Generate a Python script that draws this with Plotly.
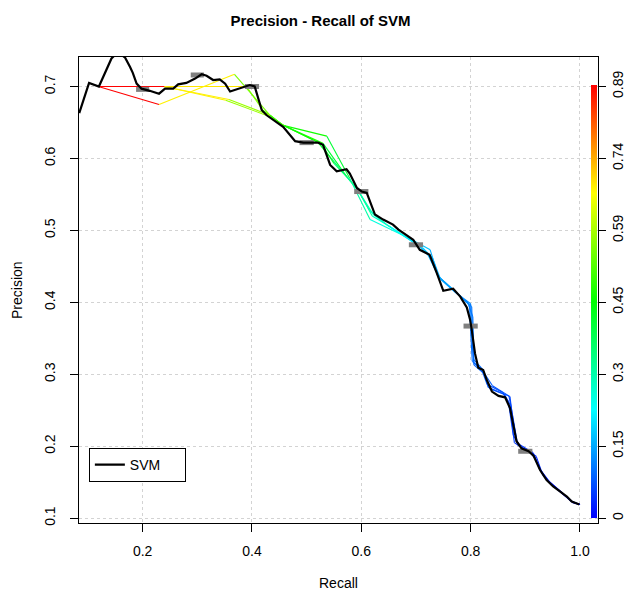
import plotly.graph_objects as go
from plotly.colors import sample_colorscale

# averaged curve (black)
avg_recall = [0.084, 0.102, 0.120, 0.143, 0.155, 0.168, 0.177, 0.182, 0.189, 0.198,
              0.213, 0.230, 0.241, 0.256, 0.265, 0.280, 0.296, 0.308, 0.317, 0.329,
              0.341, 0.351, 0.360, 0.372, 0.384, 0.396, 0.405, 0.418, 0.427, 0.445,
              0.457, 0.479, 0.494, 0.521, 0.530, 0.543, 0.555, 0.573, 0.579, 0.592,
              0.601, 0.610, 0.625, 0.640, 0.658, 0.668, 0.677, 0.695, 0.707, 0.725,
              0.738, 0.750, 0.768, 0.781, 0.793, 0.799, 0.802, 0.808, 0.814, 0.823,
              0.829, 0.839, 0.851, 0.863, 0.872, 0.878, 0.884, 0.893, 0.906, 0.915,
              0.927, 0.939, 0.951, 0.964, 0.976, 0.985, 0.999]
avg_precision = [0.663, 0.705, 0.700, 0.739, 0.748, 0.740, 0.727, 0.719, 0.704, 0.697,
                 0.694, 0.690, 0.697, 0.697, 0.703, 0.705, 0.711, 0.717, 0.715, 0.709,
                 0.710, 0.704, 0.693, 0.696, 0.700, 0.702, 0.700, 0.667, 0.660, 0.651,
                 0.644, 0.624, 0.622, 0.622, 0.619, 0.591, 0.582, 0.585, 0.579, 0.559,
                 0.554, 0.552, 0.522, 0.515, 0.508, 0.501, 0.496, 0.487, 0.473, 0.466,
                 0.441, 0.416, 0.419, 0.408, 0.393, 0.376, 0.362, 0.329, 0.309, 0.306,
                 0.293, 0.276, 0.270, 0.268, 0.253, 0.228, 0.207, 0.197, 0.193, 0.187,
                 0.167, 0.153, 0.144, 0.137, 0.130, 0.123, 0.119]

# single runs, colorized by cutoff
run1_recall = [0.119, 0.238, 0.390, 0.420, 0.457, 0.530, 0.573, 0.592, 0.622, 0.646,
               0.677, 0.707, 0.726, 0.741, 0.768, 0.795, 0.804, 0.806, 0.823, 0.835,
               0.862, 0.872, 0.880, 0.895, 0.915, 0.927, 0.945, 0.965, 0.985, 1.000]
run1_precision = [0.700, 0.700, 0.700, 0.667, 0.646, 0.621, 0.575, 0.558, 0.522, 0.508,
                  0.493, 0.477, 0.463, 0.436, 0.418, 0.399, 0.380, 0.320, 0.306, 0.280,
                  0.272, 0.258, 0.205, 0.197, 0.190, 0.168, 0.150, 0.137, 0.123, 0.119]
run1_cutoff = [0.89, 0.69, 0.56, 0.52, 0.47, 0.40, 0.33, 0.30, 0.27, 0.24,
               0.20, 0.17, 0.15, 0.14, 0.12, 0.11, 0.10, 0.09, 0.08, 0.07,
               0.06, 0.055, 0.045, 0.04, 0.035, 0.03, 0.02, 0.015, 0.008, 0.0]

run2_recall = [0.119, 0.230, 0.368, 0.433, 0.457, 0.537, 0.579, 0.616, 0.677, 0.700,
               0.726, 0.741, 0.768, 0.802, 0.804, 0.806, 0.826, 0.832, 0.872, 0.875,
               0.884, 0.905, 0.918, 0.930, 0.950, 0.970, 0.990, 1.000]
run2_precision = [0.700, 0.675, 0.717, 0.660, 0.646, 0.631, 0.572, 0.515, 0.493, 0.484,
                  0.473, 0.436, 0.417, 0.394, 0.337, 0.313, 0.300, 0.282, 0.269, 0.250,
                  0.205, 0.195, 0.183, 0.163, 0.145, 0.133, 0.121, 0.119]
run2_cutoff = [0.89, 0.68, 0.55, 0.48, 0.46, 0.40, 0.30, 0.25, 0.19, 0.17,
               0.15, 0.14, 0.12, 0.10, 0.09, 0.085, 0.08, 0.07, 0.06, 0.055,
               0.045, 0.04, 0.035, 0.028, 0.02, 0.012, 0.005, 0.0]

run3_recall = [0.119, 0.238, 0.358, 0.433, 0.457, 0.520, 0.545, 0.573, 0.592, 0.615,
               0.650, 0.680, 0.705, 0.722, 0.741, 0.770, 0.798, 0.800, 0.803, 0.820,
               0.830, 0.858, 0.869, 0.878, 0.892, 0.913, 0.925, 0.942, 0.962, 0.983, 1.000]
run3_precision = [0.700, 0.700, 0.682, 0.660, 0.646, 0.623, 0.600, 0.575, 0.558, 0.528,
                  0.506, 0.491, 0.480, 0.466, 0.436, 0.416, 0.396, 0.360, 0.318, 0.307,
                  0.286, 0.275, 0.262, 0.215, 0.199, 0.192, 0.170, 0.152, 0.139, 0.124, 0.119]
run3_cutoff = [0.89, 0.68, 0.58, 0.50, 0.46, 0.41, 0.36, 0.32, 0.30, 0.27,
               0.23, 0.20, 0.17, 0.15, 0.14, 0.12, 0.105, 0.095, 0.09, 0.08,
               0.07, 0.062, 0.055, 0.045, 0.04, 0.035, 0.03, 0.02, 0.013, 0.006, 0.0]

run4_recall = [0.119, 0.240, 0.352, 0.433, 0.460, 0.527, 0.550, 0.575, 0.595, 0.620,
               0.655, 0.685, 0.712, 0.730, 0.745, 0.772, 0.800, 0.802, 0.806, 0.822,
               0.840, 0.870, 0.874, 0.886, 0.898, 0.920, 0.932, 0.948, 0.968, 0.988, 1.000]
run4_precision = [0.700, 0.700, 0.681, 0.658, 0.645, 0.620, 0.593, 0.573, 0.555, 0.520,
                  0.504, 0.489, 0.476, 0.462, 0.432, 0.414, 0.398, 0.350, 0.316, 0.305,
                  0.284, 0.270, 0.255, 0.202, 0.196, 0.186, 0.160, 0.147, 0.134, 0.121, 0.119]
run4_cutoff = [0.89, 0.68, 0.58, 0.50, 0.46, 0.41, 0.35, 0.32, 0.30, 0.27,
               0.23, 0.20, 0.17, 0.15, 0.14, 0.12, 0.105, 0.095, 0.09, 0.08,
               0.07, 0.062, 0.055, 0.045, 0.04, 0.035, 0.03, 0.02, 0.013, 0.006, 0.0]

# spread boxes of the averaged curve
box_recall = [0.2, 0.3, 0.4, 0.5, 0.6, 0.7, 0.8, 0.9]
box_precision = [0.696, 0.716, 0.700, 0.622, 0.554, 0.480, 0.367, 0.193]
box_low = [0.188, 0.288, 0.387, 0.487, 0.587, 0.687, 0.787, 0.887]
box_high = [0.212, 0.312, 0.413, 0.513, 0.613, 0.713, 0.813, 0.913]

cutoff_max = 0.89
key_labels = ['0', '0.15', '0.3', '0.45', '0.59', '0.74', '0.89']
key_ticks = [0.1, 0.2, 0.3, 0.4, 0.5, 0.6, 0.7]

rainbow = [[0.0, '#0000FF'], [0.25, '#00FFFF'], [0.5, '#00FF00'],
           [0.75, '#FFFF00'], [1.0, '#FF0000']]

font = 'Liberation Sans, Arial, sans-serif'

fig = go.Figure()

runs = [(run1_recall, run1_precision, run1_cutoff),
        (run2_recall, run2_precision, run2_cutoff),
        (run3_recall, run3_precision, run3_cutoff),
        (run4_recall, run4_precision, run4_cutoff)]

for rec, prec, cut in runs:
    cols = sample_colorscale(rainbow, [c / cutoff_max for c in cut])
    for i in range(len(rec) - 1):
        fig.add_trace(go.Scatter(
            x=[rec[i], rec[i + 1]], y=[prec[i], prec[i + 1]],
            mode='lines', line=dict(color=cols[i], width=1.1),
            showlegend=False, hoverinfo='skip'))

# colour key
fig.add_trace(go.Scatter(
    x=run1_recall, y=run1_precision, mode='markers',
    marker=dict(size=0.1, opacity=0, color=run1_cutoff, cmin=0, cmax=cutoff_max,
                colorscale=rainbow, showscale=True,
                colorbar=dict(x=0.9865, xanchor='left', thickness=6,
                              lenmode='pixels', len=433, y=0.476, yanchor='middle',
                              outlinewidth=0, showticklabels=False, ticks='',
                              xpad=0, ypad=0)),
    showlegend=False, hoverinfo='skip'))

# boxes
bx, by = [], []
for lo, hi, p in zip(box_low, box_high, box_precision):
    bx += [lo, hi, None]
    by += [p, p, None]
fig.add_trace(go.Scatter(x=bx, y=by, mode='lines',
                         line=dict(color='#808080', width=5),
                         showlegend=False, hoverinfo='skip'))

fig.add_trace(go.Scatter(x=avg_recall, y=avg_precision, mode='lines',
                         line=dict(color='black', width=2.2), name='SVM'))

# right axis carrying the colour key labels
fig.add_trace(go.Scatter(x=[None], y=[None], yaxis='y2', showlegend=False))

yrange = [0.0933, 0.741]

# the page body adds an 8px margin, so the figure is drawn 8px smaller
fig.update_layout(
    width=625, height=585,
    margin=dict(l=71, r=35, t=49, b=70, autoexpand=False),
    paper_bgcolor='white', plot_bgcolor='white',
    font=dict(family=font, size=14, color='black'),
    title=dict(text='<b>Precision - Recall of SVM</b>', x=0.5, xref='container',
               xanchor='center', y=1 - 13 / 585, yref='container', yanchor='middle',
               font=dict(size=15)),
    xaxis=dict(range=[0.0836, 1.033], tickvals=[0.2, 0.4, 0.6, 0.8, 1.0],
               ticktext=['0.2', '0.4', '0.6', '0.8', '1.0'],
               ticks='outside', ticklen=8, tickcolor='black', ticklabelstandoff=7,
               showline=True, linecolor='black', linewidth=1, mirror=True,
               showgrid=True, gridcolor='#d3d3d3', griddash='dot', gridwidth=1,
               zeroline=False, automargin=False),
    yaxis=dict(range=yrange, tickvals=key_ticks, tickangle=-90,
               ticks='outside', ticklen=8, tickcolor='black', ticklabelstandoff=9,
               showline=True, linecolor='black', linewidth=1, mirror=True,
               showgrid=True, gridcolor='#d3d3d3', griddash='dot', gridwidth=1,
               zeroline=False, automargin=False),
    yaxis2=dict(range=yrange, overlaying='y', side='right', tickvals=key_ticks,
                ticktext=key_labels, tickangle=-90, ticks='outside', ticklen=7,
                tickcolor='black', showgrid=False, zeroline=False, showline=False,
                automargin=False),
    legend=dict(x=0.019, y=0.161, xanchor='left', yanchor='top',
                orientation='h', bordercolor='black', borderwidth=1, bgcolor='white',
                font=dict(size=14), itemwidth=30, entrywidth=50),
    annotations=[
        dict(text='Recall', xref='paper', yref='paper', x=0.5, y=-60 / 466,
             xanchor='center', yanchor='middle', showarrow=False,
             font=dict(size=14)),
        dict(text='Precision', xref='paper', yref='paper', x=-62 / 519, y=0.5,
             xanchor='center', yanchor='middle', textangle=-90, showarrow=False,
             font=dict(size=14)),
    ],
)

fig.write_html('out.html')
